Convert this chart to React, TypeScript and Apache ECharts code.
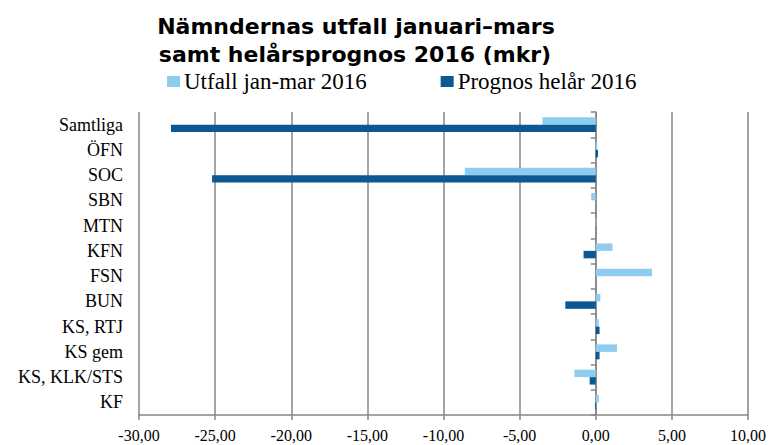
import React, { useEffect, useRef } from "react";
import * as echarts from "echarts";

const categories = [
  "Samtliga",
  "ÖFN",
  "SOC",
  "SBN",
  "MTN",
  "KFN",
  "FSN",
  "BUN",
  "KS, RTJ",
  "KS gem",
  "KS, KLK/STS",
  "KF",
];
const utfall = [-3.5, 0.1, -8.6, -0.3, 0.05, 1.1, 3.7, 0.3, 0.2, 1.4, -1.4, 0.2];
const prognos = [-27.9, 0.15, -25.2, 0, 0, -0.8, 0, -2.0, 0.25, 0.25, -0.4, -0.05];
const xTicks = { min: -30, max: 10, interval: 5 };

const serif = "'Liberation Serif', 'Times New Roman', serif";
const titleFont = "bold 22px 'DejaVu Sans', sans-serif";
const grey = "#878787";

export default function App() {
  const ref = useRef<HTMLDivElement>(null);
  useEffect(() => {
    if (!ref.current) return;
    const chart = echarts.init(ref.current, null, { renderer: "svg" });
    chart.setOption({
      animation: false,
      backgroundColor: "#ffffff",
      graphic: [
        {
          type: "text",
          x: 356,
          y: 26,
          style: {
            text: "Nämndernas utfall januari–mars",
            font: titleFont,
            fill: "#000",
            align: "center",
            verticalAlign: "middle",
          },
        },
        {
          type: "text",
          x: 355,
          y: 54.5,
          style: {
            text: "samt helårsprognos 2016 (mkr)",
            font: titleFont,
            fill: "#000",
            align: "center",
            verticalAlign: "middle",
          },
        },
      ],
      legend: {
        left: 162,
        top: 65,
        icon: "rect",
        itemWidth: 13,
        itemHeight: 11,
        itemGap: 74,
        textStyle: { fontFamily: serif, fontSize: 23, color: "#000", padding: [0, 0, 0, -1] },
        data: ["Utfall jan-mar 2016", "Prognos helår 2016"],
      },
      grid: { left: 139, right: 23, top: 112, bottom: 30, containLabel: false },
      xAxis: {
        type: "value",
        min: xTicks.min,
        max: xTicks.max,
        interval: xTicks.interval,
        axisLine: { show: true, onZero: false, lineStyle: { color: grey, width: 1.5 } },
        axisTick: { show: true, length: 5, lineStyle: { color: grey, width: 1.5 } },
        splitLine: { show: true, lineStyle: { color: grey, width: 1.5 } },
        axisLabel: {
          fontFamily: serif,
          fontSize: 16,
          color: "#000",
          margin: 12,
          formatter: (v: number) => v.toFixed(2).replace(".", ","),
        },
      },
      yAxis: [
        {
          type: "category",
          data: categories,
          inverse: true,
          axisLine: { show: false, onZero: false },
          axisTick: { show: false },
          axisLabel: { fontFamily: serif, fontSize: 18, color: "#000", margin: 16 },
        },
        {
          type: "category",
          data: categories,
          inverse: true,
          position: "left",
          axisLine: { show: true, onZero: true, lineStyle: { color: grey, width: 1.5 } },
          axisTick: { show: true, length: 5, lineStyle: { color: grey, width: 1.5 } },
          axisLabel: { show: false },
        },
      ],
      series: [
        {
          name: "Utfall jan-mar 2016",
          type: "bar",
          data: utfall,
          itemStyle: { color: "#8fcdf0" },
          barGap: "0%",
          barCategoryGap: "41%",
          yAxisIndex: 0,
        },
        {
          name: "Prognos helår 2016",
          type: "bar",
          data: prognos,
          itemStyle: { color: "#0a5993" },
          barGap: "0%",
          barCategoryGap: "41%",
          yAxisIndex: 0,
        },
      ],
    });
    return () => chart.dispose();
  }, []);
  return <div ref={ref} style={{ width: 771, height: 445, position: "absolute", left: 0, top: 0 }} />;
}
